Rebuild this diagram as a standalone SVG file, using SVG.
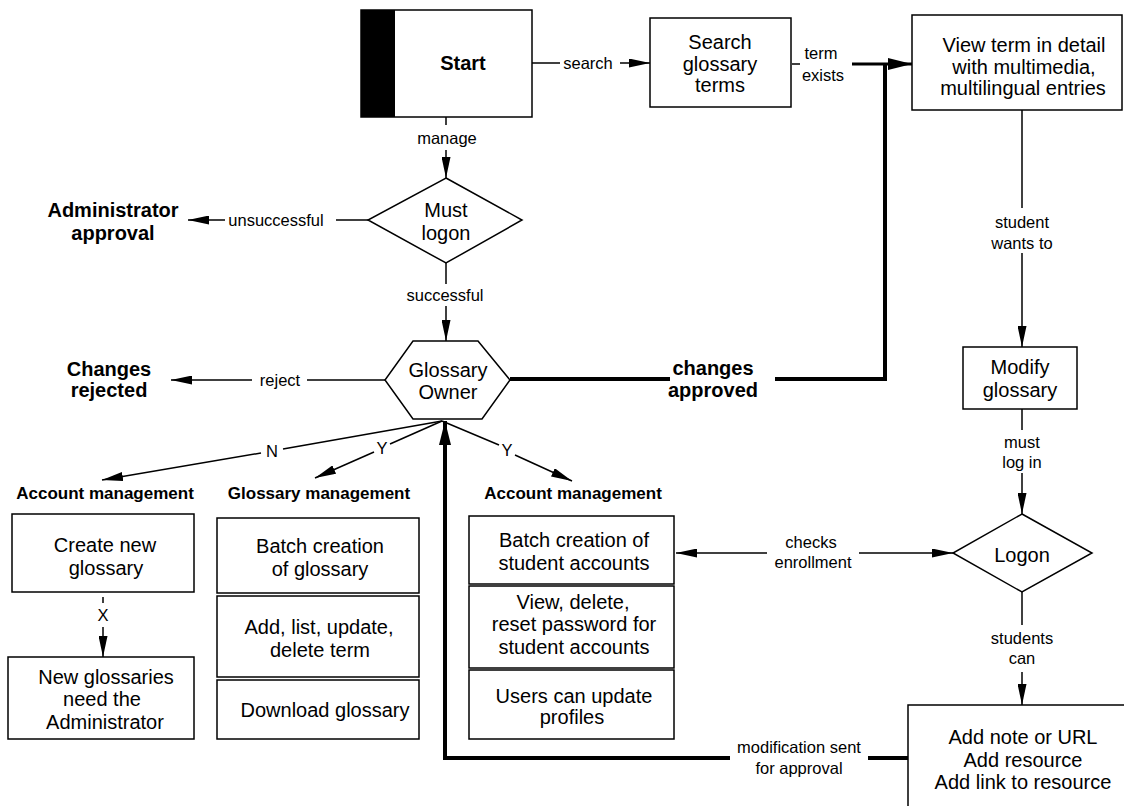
<svg xmlns="http://www.w3.org/2000/svg" width="1124" height="806" viewBox="0 0 1124 806">
<defs>
<style>
text{font-family:"Liberation Sans",Arial,sans-serif;fill:#000}
.box{fill:#fff;stroke:#000;stroke-width:1.5}
.t{font-size:20px;text-anchor:middle}
.b{font-size:20px;font-weight:bold;text-anchor:middle}
.h{font-size:17px;font-weight:bold;text-anchor:middle}
.l{font-size:16.5px;text-anchor:middle}
.c{fill:none;stroke:#000;stroke-width:1.5}
.k{fill:none;stroke:#000;stroke-width:4}
.a{marker-end:url(#ah)}
.ak{marker-end:url(#ahk)}
</style>
<marker id="ah" markerWidth="21" markerHeight="9" refX="21" refY="4.5" orient="auto" markerUnits="userSpaceOnUse"><path d="M0,0 L21,4.5 L0,9 z" fill="#000"/></marker>
<marker id="ahk" markerWidth="24" markerHeight="12" refX="24" refY="6" orient="auto" markerUnits="userSpaceOnUse"><path d="M0,0 L24,6 L0,12 z" fill="#000"/></marker>
</defs>
<rect width="1124" height="806" fill="#fff"/>

<g id="connectors">
<line class="c" x1="532" y1="63" x2="560" y2="63"/>
<line class="c a" x1="620" y1="63" x2="650" y2="63"/>
<text class="l" x="588" y="68.5">search</text>

<line class="c" x1="446" y1="117" x2="446" y2="125"/>
<line class="c a" x1="446" y1="150" x2="446" y2="178"/>
<text class="l" x="447" y="143.5">manage</text>

<line class="c" x1="368" y1="220" x2="336" y2="220"/>
<line class="c a" x1="225" y1="220" x2="188" y2="220"/>
<text class="l" x="276" y="225.5">unsuccessful</text>

<line class="c" x1="446" y1="263" x2="446" y2="284"/>
<line class="c a" x1="446" y1="306" x2="446" y2="341"/>
<text class="l" x="445" y="300.5">successful</text>

<line class="c" x1="385" y1="380" x2="307" y2="380"/>
<line class="c a" x1="252" y1="380" x2="171" y2="380"/>
<text class="l" x="280" y="385.5">reject</text>

<line class="k" x1="510" y1="379" x2="670" y2="379"/>
<polyline class="k" points="775,379 885,379 885,64"/>

<line class="c" x1="792" y1="64" x2="800" y2="64"/>
<line class="c ak" x1="852" y1="64" x2="912" y2="64" style="stroke-width:3"/>
<text class="l" x="821" y="58.5">term</text>
<text class="l" x="823" y="80.5">exists</text>

<line class="c" x1="1022" y1="110" x2="1022" y2="208"/>
<line class="c a" x1="1022" y1="253" x2="1022" y2="347"/>
<text class="l" x="1022" y="227.5">student</text>
<text class="l" x="1022" y="248.5">wants to</text>

<line class="c" x1="1022" y1="409" x2="1022" y2="430"/>
<line class="c a" x1="1022" y1="473" x2="1022" y2="514"/>
<text class="l" x="1022" y="447.5">must</text>
<text class="l" x="1022" y="467.5">log in</text>

<line class="c" x1="1022" y1="592" x2="1022" y2="625"/>
<line class="c a" x1="1022" y1="672" x2="1022" y2="705"/>
<text class="l" x="1022" y="643.5">students</text>
<text class="l" x="1022" y="663.5">can</text>

<line class="c a" x1="767" y1="553" x2="676" y2="553"/>
<line class="c a" x1="859" y1="553" x2="953" y2="553"/>
<text class="l" x="811" y="547.5">checks</text>
<text class="l" x="813" y="567.5">enrollment</text>

<line class="k" x1="908" y1="758" x2="868" y2="758"/>
<polyline class="k ak" points="730,758 445,758 445,421"/>
<text class="l" x="799" y="752.5">modification sent</text>
<text class="l" x="799" y="773.5">for approval</text>

<line class="c" x1="442" y1="421" x2="283" y2="449"/>
<line class="c a" x1="261" y1="453" x2="102" y2="480"/>
<text class="l" x="272" y="456.5">N</text>

<line class="c" x1="442" y1="421" x2="390" y2="444"/>
<line class="c a" x1="374" y1="452" x2="315" y2="478"/>
<text class="l" x="382" y="453.5">Y</text>

<line class="c" x1="442" y1="421" x2="499" y2="445"/>
<line class="c a" x1="515" y1="455" x2="572" y2="481"/>
<text class="l" x="507" y="455.5">Y</text>

<line class="c" x1="103" y1="597" x2="103" y2="603"/>
<line class="c a" x1="103" y1="627" x2="103" y2="657"/>
<text class="l" x="103" y="620.5">X</text>
</g>

<g id="start">
<rect class="box" x="361" y="10" width="171" height="107"/>
<rect x="361" y="10" width="34" height="107" fill="#000"/>
<text class="b" x="463" y="70">Start</text>
</g>

<g id="search">
<rect class="box" x="650" y="18" width="141" height="89"/>
<text class="t" x="720" y="49">Search</text>
<text class="t" x="720" y="70.5">glossary</text>
<text class="t" x="720" y="92">terms</text>
</g>

<g id="view-term">
<rect class="box" x="912" y="15" width="210" height="95"/>
<text class="t" x="1024" y="52">View term in detail</text>
<text class="t" x="1024" y="74">with multimedia,</text>
<text class="t" x="1023" y="95">multilingual entries</text>
</g>

<g id="must-logon">
<polygon class="box" points="446,178 522,220 446,263 368,220"/>
<text class="t" x="446" y="217">Must</text>
<text class="t" x="446" y="240">logon</text>
</g>

<g id="admin-approval">
<text class="b" x="113" y="217">Administrator</text>
<text class="b" x="113" y="240">approval</text>
</g>

<g id="glossary-owner">
<polygon class="box" points="413,341 478,341 510,380 482,419 413,419 385,380"/>
<text class="t" x="448" y="377">Glossary</text>
<text class="t" x="448" y="399">Owner</text>
</g>

<g id="changes-rejected">
<text class="b" x="109" y="376">Changes</text>
<text class="b" x="109" y="397">rejected</text>
</g>

<g id="changes-approved">
<text class="b" x="713" y="375">changes</text>
<text class="b" x="713" y="397">approved</text>
</g>

<g id="modify-glossary">
<rect class="box" x="963" y="347" width="114" height="62"/>
<text class="t" x="1020" y="374">Modify</text>
<text class="t" x="1020" y="397">glossary</text>
</g>

<g id="logon">
<polygon class="box" points="1022,514 1092,553 1022,592 953,553"/>
<text class="t" x="1022" y="562">Logon</text>
</g>

<g id="student-actions">
<rect class="box" x="908" y="705" width="230" height="120"/>
<text class="t" x="1023" y="744">Add note or URL</text>
<text class="t" x="1023" y="767">Add resource</text>
<text class="t" x="1023" y="789">Add link to resource</text>
</g>

<g id="account-mgmt-left">
<text class="h" x="105" y="499">Account management</text>
<rect class="box" x="12" y="514" width="182" height="78"/>
<text class="t" x="105" y="552">Create new</text>
<text class="t" x="106" y="575">glossary</text>
</g>

<g id="new-glossaries">
<rect class="box" x="8" y="657" width="186" height="82"/>
<text class="t" x="106" y="684">New glossaries</text>
<text class="t" x="102" y="706">need the</text>
<text class="t" x="105" y="729">Administrator</text>
</g>

<g id="glossary-mgmt">
<text class="h" x="319" y="499">Glossary management</text>
<rect class="box" x="217" y="518" width="202" height="75"/>
<text class="t" x="320" y="553">Batch creation</text>
<text class="t" x="320" y="576">of glossary</text>
<rect class="box" x="217" y="596" width="202" height="81"/>
<text class="t" x="319" y="634">Add, list, update,</text>
<text class="t" x="320" y="657">delete term</text>
<rect class="box" x="217" y="680" width="202" height="59"/>
<text class="t" x="325" y="717">Download glossary</text>
</g>

<g id="account-mgmt-right">
<text class="h" x="573" y="499">Account management</text>
<rect class="box" x="469" y="516" width="205" height="68"/>
<text class="t" x="574" y="547">Batch creation of</text>
<text class="t" x="574" y="570">student accounts</text>
<rect class="box" x="469" y="586" width="205" height="82"/>
<text class="t" x="573" y="609">View, delete,</text>
<text class="t" x="574" y="631">reset password for</text>
<text class="t" x="574" y="654">student accounts</text>
<rect class="box" x="469" y="670" width="205" height="69"/>
<text class="t" x="574" y="703">Users can update</text>
<text class="t" x="572" y="724">profiles</text>
</g>
</svg>
